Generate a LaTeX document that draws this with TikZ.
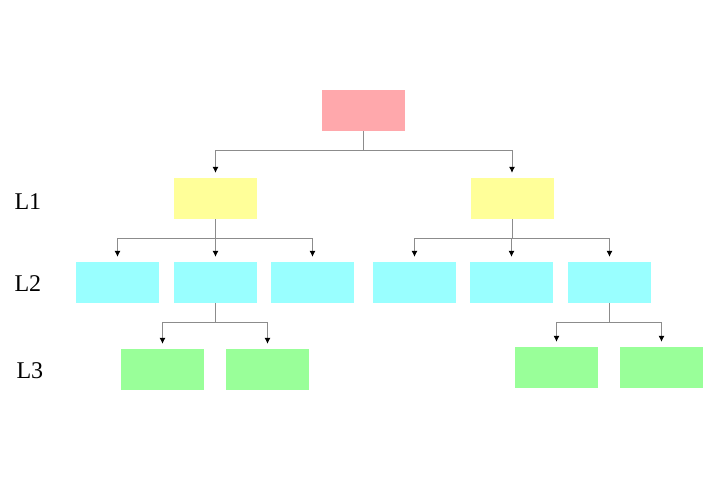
\documentclass[tikz,border=0pt]{standalone}
\usepackage{fontspec}
\setmainfont{Liberation Serif}
\usetikzlibrary{arrows.meta}
\definecolor{rootpink}{HTML}{FFA8AC}
\definecolor{onefill}{HTML}{FFFF99}
\definecolor{twofill}{HTML}{99FFFF}
\definecolor{threefill}{HTML}{99FF99}

\begin{document}
\begin{tikzpicture}[
    x=1pt, y=-1pt,
    box/.style={rectangle, minimum width=83pt, minimum height=41pt, inner sep=0pt},
    top/.style={box, fill=rootpink},
    lone/.style={box, fill=onefill},
    ltwo/.style={box, fill=twofill},
    lthree/.style={box, fill=threefill},
    level/.style={anchor=west, font=\fontsize{24}{26}\selectfont},
    conn/.style={draw=black!45, line width=0.8pt, -{Latex[length=6pt,width=6pt,color=black]}, shorten >=5pt}
]
\useasboundingbox (0,0) rectangle (718,481);

% Nodes
\node[top] (root) at (363.5,110.5) {};

\node[lone] (la) at (215.5,198.5) {};
\node[lone] (lb) at (512,198.5) {};

\node[ltwo] (laa) at (117.5,282.5) {};
\node[ltwo] (lab) at (215.5,282.5) {};
\node[ltwo] (lac) at (312.5,282.5) {};
\node[ltwo] (lba) at (414.5,282.5) {};
\node[ltwo] (lbb) at (511.5,282.5) {};
\node[ltwo] (lbc) at (609.5,282.5) {};

\node[lthree] (laba) at (162.5,369.5) {};
\node[lthree] (labb) at (267.5,369.5) {};
\node[lthree] (lbca) at (556.5,367.5) {};
\node[lthree] (lbcb) at (661.5,367.5) {};

% Level labels
\node[level] (t1) at (11,202) {L1};
\node[level] (t2) at (11,284) {L2};
\node[level] (t3) at (13,371) {L3};

% Arrows
\foreach \a/\b in {root/la, root/lb, la/laa, la/lab, la/lac, lb/lba, lb/lbb, lb/lbc, lab/laba, lab/labb, lbc/lbca, lbc/lbcb}
    \draw[conn] (\a.south) -- ++(0,19.5) -| (\b.north);

\end{tikzpicture}
\end{document}
